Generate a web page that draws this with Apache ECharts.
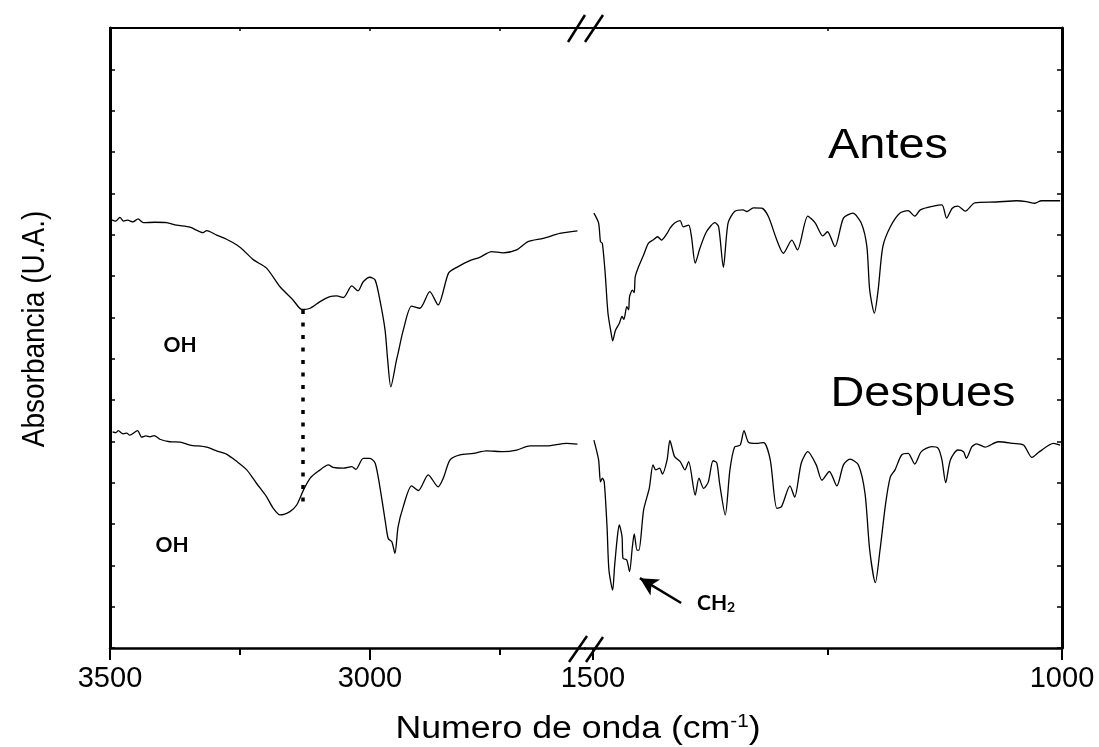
<!DOCTYPE html>
<html>
<head>
<meta charset="utf-8">
<script src="https://cdn.jsdelivr.net/npm/echarts@6/dist/echarts.min.js"></script>
<style>html,body{margin:0;padding:0;background:#fff}#c{width:1099px;height:747px}</style>
</head>
<body>
<div id="c"></div>
<script>
// ---- data (wavenumber cm-1, absorbance arbitrary units) ----
const antesLeft = [[3497,10.36],[3489,10.33],[3481,10.42],[3474,10.33],[3466,10.35],[3456,10.31],[3446,10.38],[3436,10.29],[3413,10.30],[3391,10.29],[3372,10.23],[3346,10.18],[3321,10.05],[3314,10.10],[3295,9.99],[3276,9.89],[3256,9.75],[3244,9.63],[3224,9.39],[3199,9.19],[3173,8.74],[3148,8.42],[3131,8.19],[3115,8.22],[3096,8.38],[3077,8.50],[3064,8.52],[3051,8.48],[3035,8.76],[3023,8.64],[3013,8.86],[3000,8.97],[2990,8.90],[2981,8.42],[2971,7.69],[2966,6.97],[2960,6.32],[2949,6.97],[2946,7.13],[2936,7.69],[2920,8.27],[2904,8.22],[2885,8.62],[2869,8.30],[2849,9.07],[2833,9.21],[2808,9.37],[2789,9.45],[2766,9.59],[2744,9.56],[2718,9.63],[2696,9.83],[2667,9.91],[2635,10.03],[2601,10.09]];
const antesRight = [[1499,10.52],[1494,10.28],[1492,9.83],[1490,9.79],[1487,9.07],[1484,8.10],[1480,7.53],[1479,7.43],[1476,7.69],[1472,7.85],[1469,8.02],[1467,7.95],[1464,8.26],[1462,8.18],[1461,8.50],[1458,8.66],[1456,8.60],[1455,8.98],[1452,9.19],[1446,9.51],[1441,9.79],[1436,9.87],[1431,9.95],[1427,9.87],[1421,10.03],[1418,10.15],[1413,10.28],[1407,10.34],[1404,10.19],[1398,10.23],[1395,9.95],[1391,9.31],[1386,9.67],[1379,10.07],[1370,10.29],[1366,10.19],[1361,9.21],[1356,10.28],[1349,10.56],[1340,10.60],[1336,10.56],[1329,10.65],[1320,10.64],[1313,10.44],[1304,9.87],[1297,9.55],[1288,9.87],[1282,9.63],[1271,10.45],[1263,10.28],[1255,9.97],[1250,10.07],[1242,9.71],[1233,10.40],[1223,10.52],[1214,10.28],[1208,9.71],[1205,8.66],[1200,8.10],[1196,8.66],[1191,9.71],[1183,10.19],[1173,10.52],[1164,10.58],[1157,10.45],[1151,10.60],[1137,10.69],[1128,10.72],[1123,10.40],[1117,10.64],[1111,10.69],[1103,10.57],[1093,10.77],[1070,10.79],[1048,10.82],[1038,10.80],[1029,10.76],[1022,10.82],[1002,10.82]];
const despuesLeft = [[3495,5.23],[3489,5.21],[3484,5.26],[3478,5.20],[3474,5.18],[3468,5.20],[3462,5.15],[3447,5.26],[3439,5.10],[3431,5.13],[3423,5.11],[3415,5.14],[3404,5.05],[3385,4.99],[3365,4.98],[3346,4.91],[3314,4.86],[3295,4.77],[3276,4.69],[3256,4.51],[3237,4.31],[3218,3.98],[3199,3.66],[3186,3.38],[3173,3.22],[3154,3.30],[3141,3.46],[3128,3.82],[3115,4.11],[3099,4.28],[3080,4.43],[3071,4.37],[3051,4.35],[3035,4.39],[3027,4.32],[3013,4.59],[3000,4.59],[2990,4.47],[2981,3.90],[2971,3.10],[2965,2.65],[2958,2.57],[2952,2.29],[2946,2.93],[2936,3.42],[2920,3.92],[2907,3.81],[2888,4.19],[2869,3.90],[2859,4.11],[2846,4.55],[2827,4.67],[2801,4.71],[2776,4.77],[2744,4.75],[2718,4.79],[2692,4.89],[2660,4.89],[2622,4.95],[2601,4.93]];
const despuesRight = [[1499,5.03],[1494,4.55],[1492,4.02],[1490,4.11],[1488,4.02],[1485,2.93],[1483,1.89],[1479,1.40],[1477,1.97],[1474,2.69],[1472,2.98],[1469,2.69],[1468,2.17],[1464,2.13],[1461,1.85],[1458,2.45],[1456,2.76],[1453,2.37],[1451,2.37],[1446,3.34],[1440,3.86],[1436,4.43],[1433,4.31],[1429,4.35],[1426,4.21],[1421,4.55],[1418,5.02],[1413,4.63],[1407,4.51],[1402,4.31],[1398,4.51],[1391,3.70],[1387,4.11],[1382,3.86],[1377,4.02],[1372,4.53],[1368,4.48],[1365,3.98],[1359,3.22],[1354,4.31],[1349,4.86],[1343,4.91],[1339,5.26],[1334,4.97],[1326,4.95],[1318,4.97],[1311,4.55],[1304,3.38],[1299,3.42],[1290,3.92],[1285,3.65],[1278,4.47],[1271,4.75],[1262,4.43],[1256,4.06],[1248,4.27],[1240,3.92],[1233,4.43],[1226,4.57],[1217,4.43],[1210,3.74],[1205,2.37],[1199,1.58],[1194,2.37],[1188,3.50],[1183,4.14],[1178,4.31],[1171,4.67],[1164,4.71],[1157,4.45],[1150,4.75],[1139,4.87],[1132,4.83],[1128,4.55],[1124,4.00],[1119,4.55],[1111,4.79],[1105,4.75],[1102,4.59],[1096,4.87],[1091,4.94],[1082,4.86],[1068,4.99],[1052,4.95],[1041,4.91],[1032,4.61],[1024,4.75],[1009,4.95],[1002,4.91]];
const leftTickLabels = [3500, 3000];
const leftMajorTicks = [3500, 3000];
const leftMinorTicks = [3250, 2750];
const leftTopTicks = [3250, 3000, 2750];
const rightTickLabels = [1500, 1000];
const rightMajorTicks = [1500, 1000];
const rightMinorTicks = [1250];
const rightTopTicks = [1250];
const ohMarker = [[3129, 8.18], [3129, 3.46]];
const ch2Arrow = [[1406, 1.09], [1450, 1.69]];

const FONT = "'Liberation Sans', Arial, sans-serif";
const chart = echarts.init(document.getElementById('c'), null, {renderer: 'canvas'});

function xAxisSet(grid, min, max, majors, minors, tops, labels) {
  return [
    {gridIndex: grid, type: 'value', min: min, max: max, inverse: true, position: 'bottom',
     axisLine: {show: true, lineStyle: {color: '#000', width: 2.5}},
     splitLine: {show: false},
     axisTick: {show: true, customValues: majors, length: 12, lineStyle: {color: '#000', width: 2}},
     axisLabel: {show: true, customValues: labels, formatter: v => String(v), color: '#000', fontSize: 29, fontFamily: FONT, margin: 16}},
    {gridIndex: grid, type: 'value', min: min, max: max, inverse: true, position: 'bottom',
     axisLine: {show: false}, splitLine: {show: false},
     axisTick: {show: true, customValues: minors, length: 7, lineStyle: {color: '#000', width: 2}},
     axisLabel: {show: false}},
    {gridIndex: grid, type: 'value', min: min, max: max, inverse: true, position: 'top',
     axisLine: {show: true, lineStyle: {color: '#000', width: 2}}, splitLine: {show: false},
     axisTick: {show: true, inside: true, customValues: tops, length: 3, lineStyle: {color: '#000', width: 1.5}},
     axisLabel: {show: false}}
  ];
}

const lineBase = {type: 'line', showSymbol: false, smooth: 0.25, silent: true,
  lineStyle: {color: '#000', width: 1.3}, itemStyle: {color: '#000'}};

const option = {
  animation: false,
  backgroundColor: '#fff',
  grid: [
    {left: 110, top: 28, width: 475, height: 620},
    {left: 585, top: 28, width: 477, height: 620}
  ],
  xAxis: [].concat(
    xAxisSet(0, 2586.5, 3500, leftMajorTicks, leftMinorTicks, leftTopTicks, leftTickLabels),
    xAxisSet(1, 1000, 1508.5, rightMajorTicks, rightMinorTicks, rightTopTicks, rightTickLabels)
  ),
  yAxis: [
    {gridIndex: 0, type: 'value', min: 0, max: 15, interval: 1, position: 'left',
     axisLine: {show: true, lineStyle: {color: '#000', width: 3}},
     axisTick: {show: true, inside: true, length: 5, lineStyle: {color: '#000', width: 1.5}},
     axisLabel: {show: false}, splitLine: {show: false}},
    {gridIndex: 1, type: 'value', min: 0, max: 15, interval: 1, position: 'right',
     axisLine: {show: true, lineStyle: {color: '#000', width: 3}},
     axisTick: {show: true, inside: true, length: 5, lineStyle: {color: '#000', width: 1.5}},
     axisLabel: {show: false}, splitLine: {show: false}}
  ],
  series: [
    Object.assign({}, lineBase, {name: 'Antes', xAxisIndex: 0, yAxisIndex: 0, data: antesLeft,
      markLine: {silent: true, symbol: 'none', animation: false, label: {show: false},
        lineStyle: {color: '#000', width: 3.5, type: [4, 8.5], cap: 'butt'},
        data: [[{coord: ohMarker[0]}, {coord: ohMarker[1]}]]}}),
    Object.assign({}, lineBase, {name: 'Despues', xAxisIndex: 0, yAxisIndex: 0, data: despuesLeft}),
    Object.assign({}, lineBase, {name: 'Antes', xAxisIndex: 3, yAxisIndex: 1, data: antesRight}),
    Object.assign({}, lineBase, {name: 'Despues', xAxisIndex: 3, yAxisIndex: 1, data: despuesRight,
      markLine: {silent: true, symbol: ['none', 'arrow'], symbolSize: [14, 18], animation: false, label: {show: false},
        lineStyle: {color: '#000', width: 2.5, type: 'solid'},
        data: [[{coord: ch2Arrow[0]}, {coord: ch2Arrow[1]}]]}})
  ],
  graphic: [
    // axis break marks
    {type: 'line', shape: {x1: 569, y1: 662, x2: 587, y2: 636}, style: {stroke: '#000', lineWidth: 2.5}},
    {type: 'line', shape: {x1: 586, y1: 662, x2: 603, y2: 637}, style: {stroke: '#000', lineWidth: 2.5}},
    {type: 'line', shape: {x1: 568, y1: 42, x2: 585, y2: 15}, style: {stroke: '#000', lineWidth: 2.5}},
    {type: 'line', shape: {x1: 585, y1: 42, x2: 603, y2: 15}, style: {stroke: '#000', lineWidth: 2.5}},
    // titles
    {type: 'text', x: 578, y: 729, scaleX: 1.15,
     style: {text: 'Numero de onda (cm{sup|-1})', fill: '#000', font: '31px ' + FONT, align: 'center', verticalAlign: 'middle',
       rich: {sup: {fontSize: 18, fontFamily: FONT, fill: '#000', verticalAlign: 'top', padding: [0, 0, 14, 0]}}}},
    {type: 'text', x: 35, y: 329, rotation: Math.PI / 2, scaleY: 1.13,
     style: {text: 'Absorbancia (U.A.)', fill: '#000', font: '28px ' + FONT, align: 'center', verticalAlign: 'middle'}},
    {type: 'text', x: 888, y: 146, scaleX: 1.09,
     style: {text: 'Antes', fill: '#000', font: '43px ' + FONT, align: 'center', verticalAlign: 'middle'}},
    {type: 'text', x: 923, y: 394, scaleX: 1.09,
     style: {text: 'Despues', fill: '#000', font: '43px ' + FONT, align: 'center', verticalAlign: 'middle'}},
    {type: 'text', x: 180, y: 345,
     style: {text: 'OH', fill: '#000', font: 'bold 21px Lato, sans-serif', align: 'center', verticalAlign: 'middle'}},
    {type: 'text', x: 172, y: 545,
     style: {text: 'OH', fill: '#000', font: 'bold 21px Lato, sans-serif', align: 'center', verticalAlign: 'middle'}},
    {type: 'text', x: 697, y: 603,
     style: {text: 'CH{sub|2}', fill: '#000', font: 'bold 21px Lato, sans-serif', align: 'left', verticalAlign: 'middle',
       rich: {sub: {fontSize: 14, fontWeight: 'bold', fontFamily: 'Lato, sans-serif', fill: '#000', verticalAlign: 'bottom', padding: [8, 0, 0, 0]}}}}
  ]
};
chart.setOption(option);
</script>
</body>
</html>
